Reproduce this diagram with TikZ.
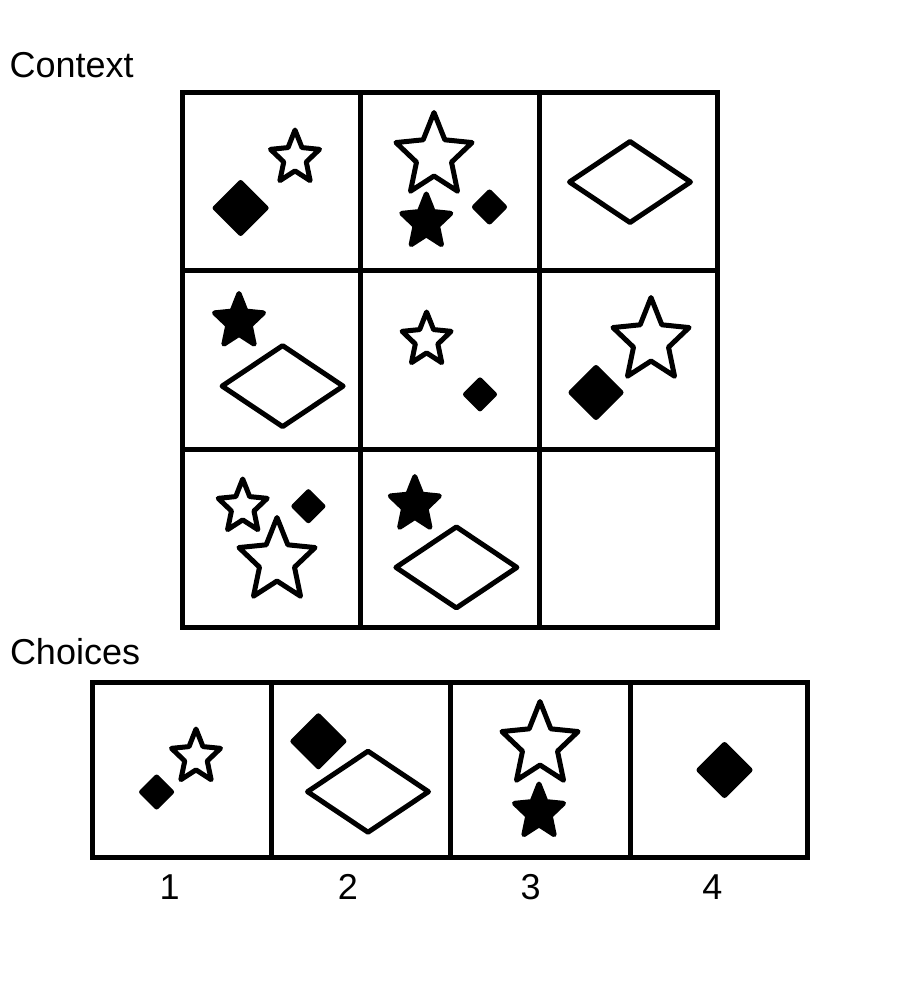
\documentclass[tikz,border=0pt]{standalone}
\usepackage{fontspec}
\setmainfont{Liberation Sans}
\begin{document}
\begin{tikzpicture}[x=1pt,y=-1pt,
    frame/.style={line width=5pt},
    openshape/.style={line width=5pt,line join=round,fill=white},
    blackshape/.style={line width=5pt,line join=round,fill=black},
    lbl/.style={inner sep=0pt,font=\fontsize{36}{42}\selectfont}]
    \fill[white] (0,0) rectangle (900,1000);
    % context grid
    \draw[frame] (182.5,92.5) rectangle (717.5,627.5);
    \foreach \i in {1,2} {
        \draw[frame] ({182.5+178.333*\i},92.5) -- ({182.5+178.333*\i},627.5);
        \draw[frame] (182.5,{92.5+178.333*\i}) -- (717.5,{92.5+178.333*\i});
    }
    % choices row
    \draw[frame] (92.5,682.5) rectangle (807.5,857.5);
    \foreach \x in {271,450.5,630}
        \draw[frame] (\x,682.5) -- (\x,857.5);
    \node[lbl,anchor=base west] (context) at (9.5,77.3) {Context};
    \node[lbl,anchor=base west] (choices) at (9.8,664) {Choices};
    \foreach \n/\x in {1/169.7,2/348,3/530.7,4/712.4}
        \node[lbl,anchor=base] (num\n) at (\x,899.3) {\n};
    % open stars: centre x/centre y/radius
    \foreach \x/\y/\r in {295/158/28, 434/156/43.5, 426.6/340/28, 651/341/43.5,
                          242.7/507/28, 277/561/43.5, 196/757/28, 540/745/43.5}
        \draw[openshape,shift={(\x,\y)},xscale=0.92] (-90:\r)
            \foreach \a in {0,72,...,288} {-- ({-54+\a}:{0.46*\r}) -- ({-18+\a}:\r)} -- cycle;
    % black stars
    \foreach \x/\y/\r in {426.3/222/28, 239/321.5/28, 414.8/504.6/28, 539/812/28}
        \draw[blackshape,shift={(\x,\y)},xscale=0.92] (-90:\r)
            \foreach \a in {0,72,...,288} {-- ({-54+\a}:{0.46*\r}) -- ({-18+\a}:\r)} -- cycle;
    % black diamonds: centre x/centre y/half diagonal
    \foreach \x/\y/\d in {240.6/208/25.5, 489.5/207/15, 480/394.4/14.5, 596/392.5/25,
                          308.4/506.2/14.5, 156.6/792/15, 318.4/741.3/25.5, 724.5/770/25.5}
        \draw[blackshape,shift={(\x,\y)}] (-\d,0) -- (0,-\d) -- (\d,0) -- (0,\d) -- cycle;
    % open rhombi
    \foreach \x/\y in {630/182, 282.6/386.1, 456.4/567.4, 368/791.7}
        \draw[openshape,shift={(\x,\y)}] (-60.5,0) -- (0,-40.5) -- (60.5,0) -- (0,40.5) -- cycle;
\end{tikzpicture}
\end{document}
